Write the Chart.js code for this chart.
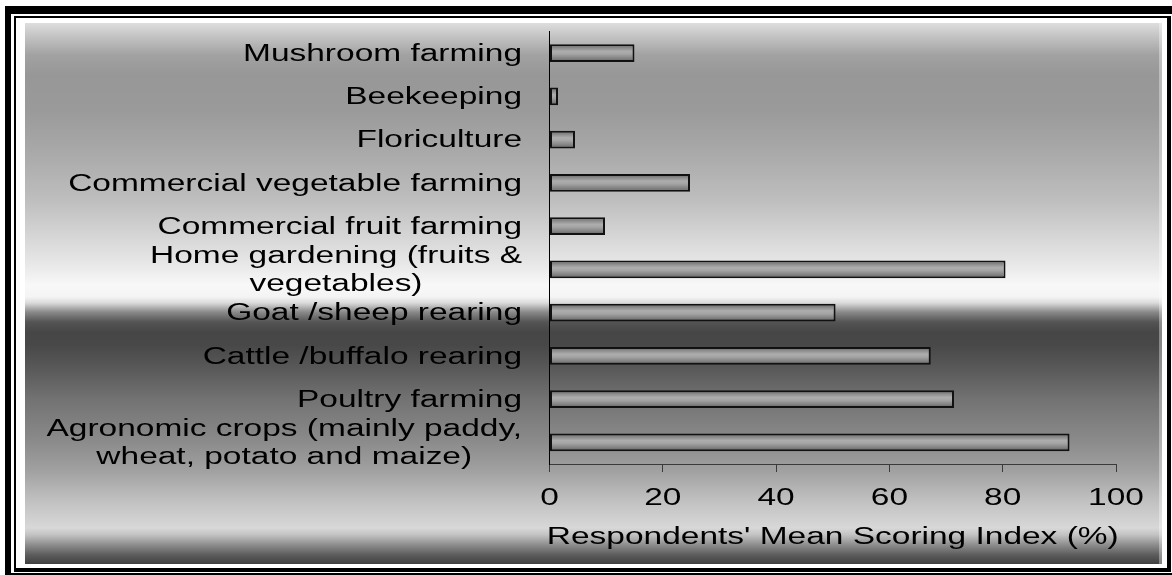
<!DOCTYPE html>
<html>
<head>
<meta charset="utf-8">
<title>Respondents' Mean Scoring Index</title>
<script src="https://cdn.jsdelivr.net/npm/chart.js@4.4.1/dist/chart.umd.min.js"></script>
<style>
  html, body { margin: 0; padding: 0; background: #fff; }
  #wrap { width: 1172px; height: 575px; position: relative; }
  canvas { display: block; }
</style>
</head>
<body>
<div id="wrap"><canvas id="chart" width="1172" height="575"></canvas></div>
<script>
// Enterprise categories, top to bottom
const categories = [
  'Mushroom farming',
  'Beekeeping',
  'Floriculture',
  'Commercial vegetable farming',
  'Commercial fruit farming',
  ['Home gardening (fruits &', 'vegetables)'],
  'Goat /sheep rearing',
  'Cattle /buffalo rearing',
  'Poultry farming',
  ['Agronomic crops (mainly paddy,', 'wheat, potato and maize)']
];

// Mean scoring index (%) for each enterprise
const scores = [15, 1.5, 4.5, 24.8, 9.8, 80.5, 50.5, 67.3, 71.4, 91.8];

// Value axis
const xTickValues = [0, 20, 40, 60, 80, 100];
const xTitle = "Respondents' Mean Scoring Index (%)";

// Text is drawn horizontally widened
const FONT_PX = 23;
const FONT_FAMILY = '"Liberation Sans", Arial, Helvetica, sans-serif';
const STRETCH = 1.455;
const LINE_H = 27.4;

// Frame and banded grey backdrop
const backdropPlugin = {
  id: 'backdrop',
  beforeDraw(chart) {
    const ctx = chart.ctx;
    const W = chart.width, H = chart.height;
    ctx.save();
    ctx.fillStyle = '#fff';
    ctx.fillRect(0, 0, W, H);

    ctx.fillStyle = '#000';
    // outer heavy frame
    ctx.fillRect(5, 6, W - 5, 8);
    ctx.fillRect(5, 6, 6, H - 6);
    ctx.fillRect(5, 573, W - 5, 2);
    // inner thin frame
    ctx.fillRect(14, 16, 1157, 2);
    ctx.fillRect(14, 16, 2, 556);
    ctx.fillRect(1167, 16, 4, 556);
    ctx.fillRect(14, 568, 1157, 4);

    const top = 23, bottom = 564, left = 25, right = 1162;
    const g = ctx.createLinearGradient(0, top, 0, bottom);
    const stops = [
      [23, '#dedede'], [35, '#c6c6c6'], [55, '#a2a2a2'], [75, '#979797'],
      [110, '#9a9a9a'], [150, '#a8a8a8'], [200, '#bebebe'], [240, '#d8d8d8'],
      [265, '#e8e8e8'], [285, '#f8f8f8'], [297, '#f4f4f4'], [303, '#dadada'],
      [312, '#8a8a8a'], [322, '#545454'], [332, '#464646'], [345, '#484848'],
      [370, '#5a5a5a'], [400, '#737373'], [440, '#8a8a8a'], [470, '#a0a0a0'],
      [500, '#c0c0c0'], [528, '#d8d8d8'], [535, '#c2c2c2'], [545, '#8c8c8c'],
      [555, '#5c5c5c'], [564, '#404040']
    ];
    stops.forEach(([y, c]) => g.addColorStop((y - top) / (bottom - top), c));
    ctx.fillStyle = g;
    ctx.fillRect(left, top, right - left, bottom - top);

    // pale edge on the right side of the backdrop
    ctx.fillStyle = 'rgba(255,255,255,0.35)';
    ctx.fillRect(right - 3, top, 3, bottom - top);
    ctx.restore();
  }
};

// Category names, tick numbers and axis title
const labelPlugin = {
  id: 'stretchedLabels',
  afterDraw(chart) {
    const ctx = chart.ctx;
    const ys = chart.scales.y;
    const xs = chart.scales.x;
    ctx.save();
    ctx.fillStyle = '#000';
    ctx.font = FONT_PX + 'px ' + FONT_FAMILY;
    ctx.textBaseline = 'alphabetic';
    ctx.textAlign = 'center';

    const labelRight = 522;
    categories.forEach((lab, i) => {
      const lines = Array.isArray(lab) ? lab : [lab];
      const yc = ys.getPixelForTick(i);
      const w = Math.max(...lines.map(l => ctx.measureText(l).width));
      ctx.save();
      ctx.translate(labelRight, yc);
      ctx.scale(STRETCH, 1);
      lines.forEach((l, k) => {
        const dy = (k - (lines.length - 1) / 2) * LINE_H + 7.8;
        ctx.fillText(l, -w / 2, dy);
      });
      ctx.restore();
    });

    xTickValues.forEach(v => {
      const x = xs.getPixelForValue(v);
      ctx.save();
      ctx.translate(x, 505);
      ctx.scale(STRETCH, 1);
      ctx.fillText(String(v), 0, 0);
      ctx.restore();
    });

    ctx.save();
    ctx.translate((chart.chartArea.left + chart.chartArea.right) / 2, 543.5);
    ctx.scale(STRETCH, 1);
    ctx.fillText(xTitle, 0, 0);
    ctx.restore();

    ctx.restore();
  }
};

// Cylinder-like shading across each bar's thickness
function barFill(context) {
  const chart = context.chart;
  const ys = chart.scales && chart.scales.y;
  if (!ys || !chart.chartArea || context.dataIndex === undefined) return '#999';
  const yc = ys.getPixelForValue(context.dataIndex);
  const g = chart.ctx.createLinearGradient(0, yc - 9, 0, yc + 9);
  g.addColorStop(0, '#5e5e5e');
  g.addColorStop(0.2, '#8a8a8a');
  g.addColorStop(0.4, '#adadad');
  g.addColorStop(0.55, '#a5a5a5');
  g.addColorStop(0.8, '#818181');
  g.addColorStop(1, '#5a5a5a');
  return g;
}

new Chart(document.getElementById('chart'), {
  type: 'bar',
  data: {
    labels: categories,
    datasets: [{
      data: scores,
      backgroundColor: barFill,
      borderColor: '#111',
      borderWidth: 2,
      borderSkipped: false,
      categoryPercentage: 1,
      barPercentage: 0.416
    }]
  },
  options: {
    indexAxis: 'y',
    responsive: false,
    devicePixelRatio: 1,
    animation: false,
    layout: { padding: { left: 0, top: 31.5, right: 56, bottom: 0 } },
    plugins: {
      legend: { display: false },
      tooltip: { enabled: false },
      title: { display: false }
    },
    scales: {
      x: {
        type: 'linear',
        position: 'bottom',
        min: 0,
        max: 100,
        ticks: { stepSize: 20, display: false },
        grid: {
          display: true,
          drawOnChartArea: false,
          drawTicks: true,
          tickLength: 8,
          color: '#3a3a3a',
          lineWidth: 1
        },
        border: { display: true, color: '#3a3a3a', width: 1 },
        afterFit(scale) { scale.height = 111; }
      },
      y: {
        type: 'category',
        position: 'left',
        grid: { display: false },
        ticks: { display: false },
        border: { display: true, color: '#000', width: 1 },
        afterFit(scale) { scale.width = 549.5; }
      }
    }
  },
  plugins: [backdropPlugin, labelPlugin]
});
</script>
</body>
</html>
